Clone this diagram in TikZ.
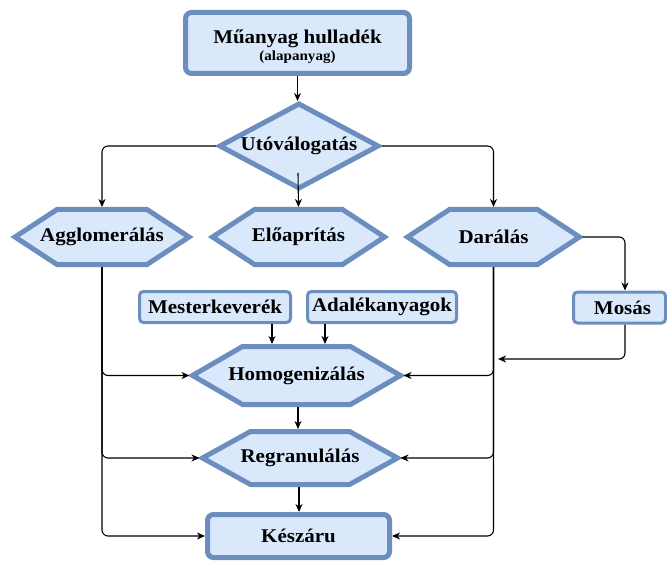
\documentclass[tikz,border=0pt]{standalone}
\usepackage{fontspec}
\setmainfont{Liberation Serif}[FakeStretch=1.08]
\usetikzlibrary{arrows.meta}
\definecolor{fillc}{HTML}{DAE8FC}
\definecolor{strk}{HTML}{6C8EBF}
\newcommand\lblfont{\fontsize{19.5}{23}\selectfont\bfseries}
\newcommand\smlfont{\fontsize{14}{17}\selectfont\bfseries}
% name, cx, cy, w, h, slant, text
\newcommand\hexag[7]{%
  \filldraw[shp] (#2-#4/2,#3) -- (#2-#4/2+#6,#3-#5/2) -- (#2+#4/2-#6,#3-#5/2)
    -- (#2+#4/2,#3) -- (#2+#4/2-#6,#3+#5/2) -- (#2-#4/2+#6,#3+#5/2) -- cycle;
  \node[ghost, minimum width=#4bp+6bp, minimum height=#5bp+5bp] (#1) at (#2,#3) {#7};
}
\begin{document}
\begin{tikzpicture}[x=1bp,y=-1bp,
  shp/.style={draw=strk, fill=fillc, line width=5bp, line join=miter},
  bigbox/.style={shp, rectangle, rounded corners=6bp, inner sep=0pt, font=\lblfont, text=black},
  smallbox/.style={draw=strk, fill=fillc, line width=3bp, rectangle, rounded corners=4bp, inner sep=0pt, font=\lblfont, text=black},
  ghost/.style={draw=none, fill=none, inner sep=0pt, outer sep=0pt, font=\lblfont, text=black},
  txt/.style={inner sep=0pt, text=black},
  arr/.style={draw=black, line width=1.1bp, rounded corners=6bp, -{Stealth[length=8bp,width=7bp,inset=2.5bp]}},
]
\useasboundingbox (0,0) rectangle (667,561);

% top box
\node[bigbox, minimum width=224bp, minimum height=61bp] (top) at (297.5,43) {};
\node[txt, anchor=base, font=\lblfont] (t1) at (297.5,43.5) {Műanyag hulladék};
\node[txt, anchor=base, font=\smlfont] (t2) at (297.5,60.5) {(alapanyag)};

% diamond
\filldraw[shp] (220,146) -- (299,104) -- (378,146) -- (299,188) -- cycle;
\node[ghost, minimum width=166bp, minimum height=90bp] (ut) at (299,146) {Utóválogatás};
\coordinate (utin) at (298,173);

% hexagons
\hexag{ag}{102}{237}{174}{55}{42}{Agglomerálás}
\hexag{el}{298.5}{237}{172}{55}{42}{Előaprítás}
\hexag{da}{493.5}{237}{172}{55}{42}{Darálás}
\hexag{ho}{296.5}{375.5}{208}{58}{50}{Homogenizálás}
\hexag{re}{300}{458}{195}{53}{48}{Regranulálás}

% small boxes
\node[smallbox, minimum width=151bp, minimum height=31bp] (me) at (215,307) {Mesterkeverék};
\node[smallbox, minimum width=149bp, minimum height=31bp] (ad) at (382,307) {Adalékanyagok};
\node[smallbox, minimum width=92bp, minimum height=31bp, text width=92bp, align=center] (mo) at (619.5,307.5) {\hspace*{6bp}Mosás};

% final box
\node[bigbox, minimum width=182bp, minimum height=43bp] (ke) at (298.5,536) {Készáru};

% helper coordinates
\coordinate (mx) at (272,0);
\coordinate (ax) at (325,0);
\coordinate (hx) at (298,0);
\coordinate (rx) at (299,0);
\coordinate (mox) at (625,0);
\coordinate (mosend) at (498,359);

% connectors
\draw[arr] (top.south) -- (top.south |- ut.north);
\draw[arr] (ut.west) -| (ag.north);
\draw[arr] (ut.east) -| (da.north);
\draw[arr] (utin) -- (el.north);
\draw[arr] (da.east) -| (mo.north -| mox);
\draw[arr] (mo.south -| mox) |- (mosend);

\draw[arr] (me.south -| mx) -- (ho.north -| mx);
\draw[arr] (ad.south -| ax) -- (ho.north -| ax);
\draw[arr] (ho.south -| hx) -- (re.north -| hx);
\draw[arr] (re.south -| rx) -- (ke.north -| rx);

\draw[arr] (ag.south) |- (ho.west);
\draw[arr] (ag.south) |- (re.west);
\draw[arr] (ag.south) |- (ke.west);
\draw[arr] (da.south) |- (ho.east);
\draw[arr] (da.south) |- (re.east);
\draw[arr] (da.south) |- (ke.east);
\end{tikzpicture}
\end{document}
